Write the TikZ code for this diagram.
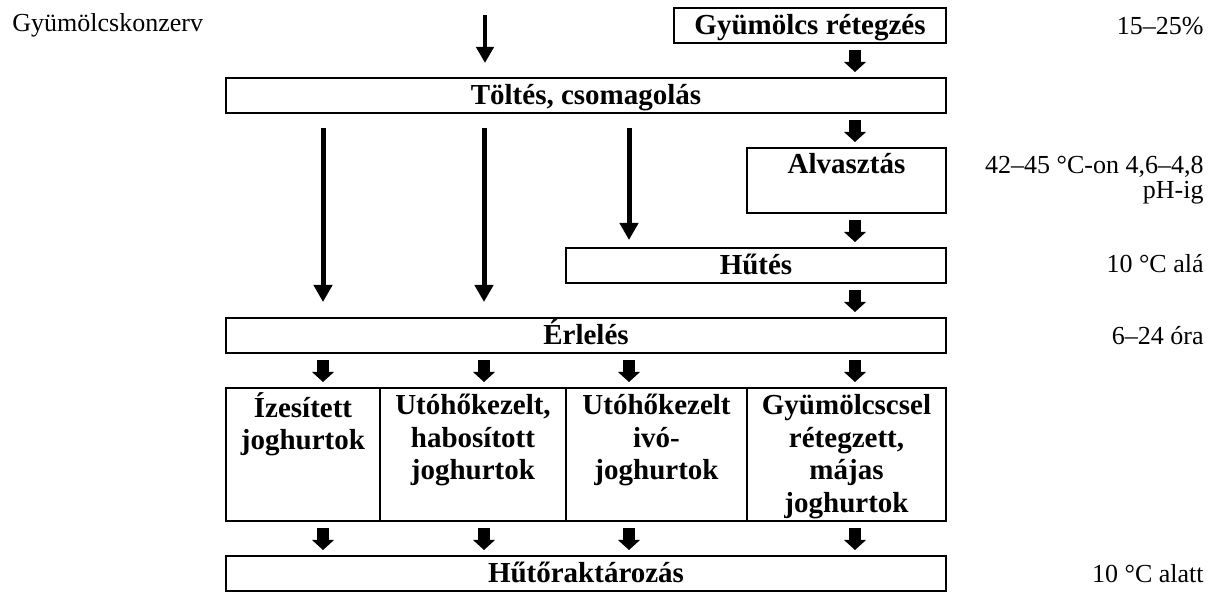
\documentclass[tikz,border=0pt]{standalone}
\usepackage{fontspec}
\setmainfont{Liberation Serif}
\usetikzlibrary{arrows.meta}
\begin{document}
\begin{tikzpicture}[x=0.5pt,y=-0.5pt,
  box/.style={draw, line width=1pt, inner sep=0pt, outer sep=0pt, anchor=north west,
    font=\fontsize{14.5}{16.5}\selectfont\bfseries, text height=13.5pt, text depth=4pt},
  colbox/.style={draw, line width=1pt, inner sep=0pt, outer sep=0pt, anchor=north west, minimum height=66.5pt},
  coltext/.style={inner sep=0pt, anchor=north, align=center, font=\fontsize{14.5}{16.2}\selectfont\bfseries},
  lab/.style={inner sep=0pt, anchor=base east, font=\fontsize{13}{12.5}\selectfont},
  longarr/.style={line width=2.5pt, -{Triangle[width=9pt,length=8.5pt]}, shorten <=7.5pt, shorten >=8pt},
  blk/.style={line width=6pt, -{Triangle[width=11pt,length=5pt,line width=0pt]}, shorten <=3.5pt, shorten >=3pt}
]
\useasboundingbox (0,0) rectangle (1216,592);

% boxes
\node[box, minimum width=136pt] (gyr) at (674,8) {Gyümölcs rétegzés};
\node[box, minimum width=360pt] (tol) at (226,78) {Töltés, csomagolás};
\node[box, minimum width=99.5pt, text height=13pt, text depth=19.5pt] (alv) at (747,148) {Alvasztás};
\node[box, minimum width=190pt] (hut) at (566,248) {Hűtés};
\node[box, minimum width=360pt] (erl) at (226,318) {Érlelés};
\node[colbox, minimum width=77pt] (c1) at (226,388) {};
\node[colbox, minimum width=93pt] (c2) at (380,388) {};
\node[colbox, minimum width=90.5pt] (c3) at (566,388) {};
\node[colbox, minimum width=99.5pt] (c4) at (747,388) {};
\node[box, minimum width=360pt] (hr) at (226,556) {Hűtőraktározás};

% column texts
\node[coltext] (t1) at ([yshift=-1.95pt]c1.north) {\strut Ízesített\\joghurtok};
\node[coltext] (t2) at ([yshift=-1.95pt]c2.north) {\strut Utóhőkezelt,\\habosított\\joghurtok};
\node[coltext] (t3) at ([yshift=-1.95pt]c3.north) {\strut Utóhőkezelt\\ivó-\\joghurtok};
\node[coltext] (t4) at ([yshift=-1.95pt]c4.north) {\strut Gyümölcscsel\\rétegzett,\\májas\\joghurtok};

% side labels
\node[lab, anchor=base west] (gk) at (12,32) {Gyümölcskonzerv};
\node[lab] (l1) at (1204,35) {15–25\%};
\node[lab, align=right, anchor=north east] (l2) at (1204,155.5) {\strut 42–45 °C-on 4,6–4,8\\pH-ig};
\node[lab] (l3) at (1204,273) {10 °C alá};
\node[lab] (l4) at (1204,345) {6–24 óra};
\node[lab] (l5) at (1204,583) {10 °C alatt};

% column x positions
\coordinate (cx1) at (323,0);
\coordinate (cx2) at (484,0);
\coordinate (cx3) at (629,0);
\coordinate (cx4) at (855,0);
\coordinate (top) at (485,15);

% long arrows
\draw[longarr, line width=2pt, shorten <=0pt, shorten >=7.5pt, -{Triangle[width=8.5pt,length=8pt]}] (top) -- (tol.north -| top);
\draw[longarr] (tol.south -| cx1) -- (erl.north -| cx1);
\draw[longarr] (tol.south -| cx2) -- (erl.north -| cx2);
\draw[longarr, shorten >=4pt] (tol.south -| cx3) -- (hut.north -| cx3);

% block arrows
\draw[blk] (gyr.south -| cx4) -- (tol.north -| cx4);
\draw[blk] (tol.south -| cx4) -- (alv.north -| cx4);
\draw[blk] (alv.south -| cx4) -- (hut.north -| cx4);
\draw[blk] (hut.south -| cx4) -- (erl.north -| cx4);
\draw[blk] (erl.south -| cx1) -- (c1.north -| cx1);
\draw[blk] (erl.south -| cx2) -- (c2.north -| cx2);
\draw[blk] (erl.south -| cx3) -- (c3.north -| cx3);
\draw[blk] (erl.south -| cx4) -- (c4.north -| cx4);
\draw[blk] (c1.south -| cx1) -- (hr.north -| cx1);
\draw[blk] (c2.south -| cx2) -- (hr.north -| cx2);
\draw[blk] (c3.south -| cx3) -- (hr.north -| cx3);
\draw[blk] (c4.south -| cx4) -- (hr.north -| cx4);
\end{tikzpicture}
\end{document}
